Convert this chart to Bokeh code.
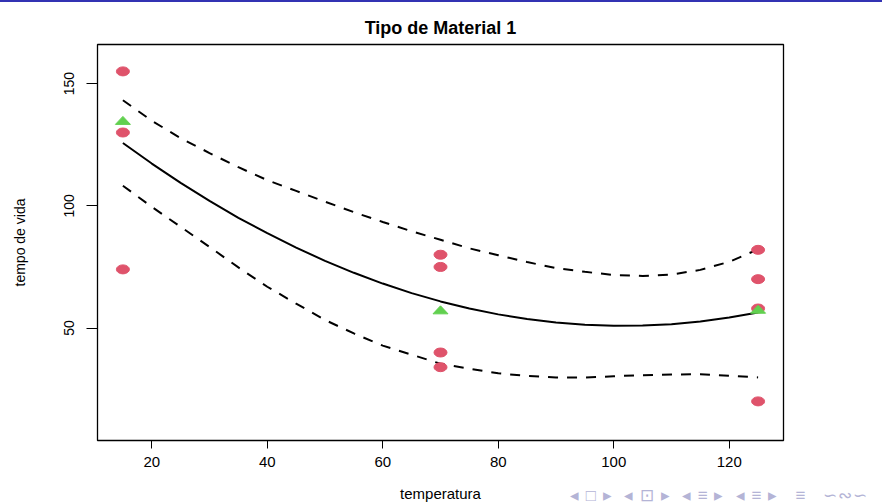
from bokeh.plotting import figure
from bokeh.layouts import column
from bokeh.models import Range1d, FixedTicker, Div
from bokeh.embed import file_html
from bokeh.resources import INLINE

# Observações do material 1 (temperatura x tempo de vida)
temperatura = [15, 15, 15, 15, 70, 70, 70, 70, 125, 125, 125, 125]
tempo_vida = [130, 155, 74, 180, 34, 40, 80, 75, 20, 70, 82, 58]

# Médias por nível de temperatura
temp_niveis = [15, 70, 125]
vida_media = [134.75, 57.25, 57.5]

# Curva ajustada e limites do intervalo
temp_grade = [15, 20, 25, 30, 35, 40, 45, 50, 55, 60, 65, 70,
              75, 80, 85, 90, 95, 100, 105, 110, 115, 120, 125]
ajuste = [125.7, 117.3, 109.4, 102.0, 95.1, 88.8, 82.9, 77.5, 72.6, 68.2, 64.3, 60.9,
          58.0, 55.6, 53.7, 52.3, 51.4, 50.9, 51.0, 51.6, 52.7, 54.3, 56.4]
lim_sup = [143.2, 134.8, 127.7, 121.6, 115.8, 110.5, 106.1, 101.7, 97.4, 93.4, 89.6, 86.1,
           82.6, 79.8, 77.0, 74.5, 73.0, 71.7, 71.3, 71.9, 73.8, 77.1, 82.2]
lim_inf = [108.2, 99.6, 91.4, 83.2, 74.8, 66.9, 60.0, 53.3, 47.8, 42.8, 39.1, 35.4,
           33.4, 31.5, 30.4, 29.8, 29.7, 30.3, 30.7, 31.0, 31.1, 30.5, 29.8]

x_ticks = [20, 40, 60, 80, 100, 120]
y_ticks = [50, 100, 150]

FONT = "Liberation Sans"
VERMELHO = "#DF536B"
VERDE = "#61D04F"

p = figure(width=882, height=502, output_backend="svg", toolbar_location=None,
           x_range=Range1d(10.6, 129.4), y_range=Range1d(4, 166),
           min_border_left=97, min_border_right=99, min_border_top=42, min_border_bottom=64)

p.background_fill_color = "white"
p.border_fill_color = "white"
p.grid.visible = False
p.outline_line_color = "black"
p.outline_line_width = 1.3

p.title.text = "Tipo de Material 1"
p.title.align = "center"
p.title.text_font = FONT
p.title.text_font_style = "bold"
p.title.text_font_size = "18px"
p.title.text_color = "black"
p.title.standoff = 13

for ax in (p.xaxis[0], p.yaxis[0]):
    ax.axis_line_color = None
    ax.major_tick_line_color = "black"
    ax.major_tick_in = 0
    ax.minor_tick_line_color = None
    ax.major_label_text_font = FONT
    ax.major_label_text_font_size = "14px"
    ax.major_label_text_color = "black"
    ax.axis_label_text_font = FONT
    ax.axis_label_text_font_size = "14px"
    ax.axis_label_text_font_style = "normal"
    ax.axis_label_text_color = "black"

p.xaxis.ticker = FixedTicker(ticks=x_ticks)
p.xaxis.major_tick_out = 8
p.xaxis.major_label_standoff = 8
p.xaxis.major_label_text_font_size = "15px"
p.xaxis.axis_label = "temperatura"
p.xaxis.axis_label_text_font_size = "15px"
p.xaxis.axis_label_standoff = 15

p.yaxis.ticker = FixedTicker(ticks=y_ticks)
p.yaxis.major_tick_out = 11
p.yaxis.major_label_standoff = 12
p.yaxis.major_label_orientation = "vertical"
p.yaxis.axis_label = "tempo de vida"
p.yaxis.axis_label_standoff = 34

# curva ajustada e faixa
p.line(temp_grade, ajuste, line_color="black", line_width=2)
p.line(temp_grade, lim_sup, line_color="black", line_width=2, line_dash="10 9")
p.line(temp_grade, lim_inf, line_color="black", line_width=2, line_dash="10 9")

# observações
p.ellipse(x=temperatura, y=tempo_vida, width=13, height=9,
          width_units="screen", height_units="screen",
          fill_color=VERMELHO, line_color=VERMELHO)

# médias: triângulos achatados centrados em cada média
px_x = 686 / (129.4 - 10.6)
px_y = 396 / (166 - 4)
dx = 7.5 / px_x
dy_top = 4.5 / px_y
dy_base = 3.5 / px_y
tri_xs = [[t - dx, t + dx, t] for t in temp_niveis]
tri_ys = [[m - dy_base, m - dy_base, m + dy_top] for m in vida_media]
p.patches(tri_xs, tri_ys, fill_color=VERDE, line_color=VERDE)

# faixa azul do topo do slide
barra = Div(text="", width=882, height=2, margin=(0, 0, 0, 0),
            styles={"background-color": "#3333B3"})

# símbolos de navegação do slide, sobrepostos ao canto inferior direito
nav = Div(text="◂ □ ▸&nbsp;&nbsp;◂ ⊡ ▸&nbsp;&nbsp;◂ ≡ ▸&nbsp;&nbsp;◂ ≡ ▸&nbsp;&nbsp;&nbsp;≡&nbsp;&nbsp;&nbsp;∽∾∽",
          width=310, height=18, margin=(-17, 0, 0, 570),
          styles={"color": "#B4B4D6", "font-family": FONT, "font-size": "17px",
                  "white-space": "nowrap", "line-height": "18px",
                  "letter-spacing": "1px"})

layout = column(barra, p, nav, spacing=0)

open("out.html", "w").write(file_html(layout, INLINE))
